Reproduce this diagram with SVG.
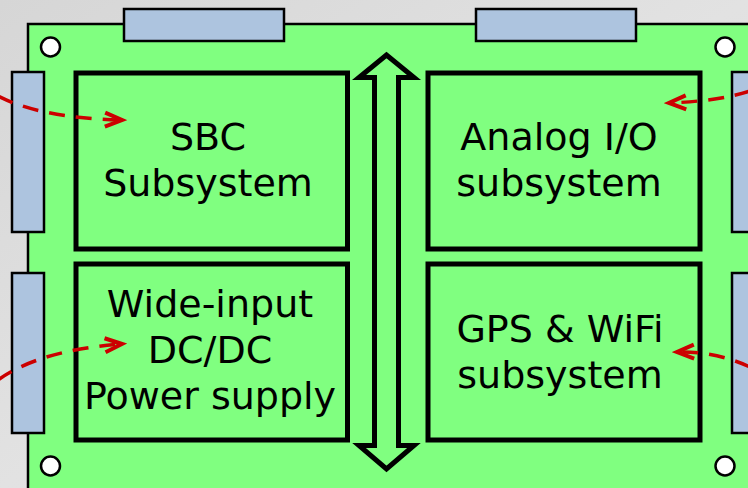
<svg xmlns="http://www.w3.org/2000/svg" width="748" height="488" viewBox="0 0 748 488">
  <defs>
    <linearGradient id="bg" x1="0" y1="0" x2="1" y2="1">
      <stop offset="0" stop-color="#d6d6d6"/>
      <stop offset="0.5" stop-color="#e2e2e2"/>
      <stop offset="1" stop-color="#d9d9d9"/>
    </linearGradient>
    <marker id="ah" markerUnits="userSpaceOnUse" markerWidth="26" markerHeight="22" refX="21" refY="11" orient="auto">
      <path d="M4,4 L21,11 L4,18" fill="none" stroke="#cc0000" stroke-width="4" stroke-linejoin="miter"/>
    </marker>
    <style>
      .conn { fill: #adc4df; stroke: #000; stroke-width: 2.5; }
      .hole { fill: #fff; stroke: #000; stroke-width: 2.5; }
      .box { fill: #80ff80; stroke: #000; stroke-width: 5; }
      .lbl { font-family: "DejaVu Sans", Verdana, sans-serif; font-size: 38px; fill: #000; text-anchor: middle; }
      .link { fill: none; stroke: #cc0000; stroke-width: 3.5; stroke-dasharray: 16 11; marker-end: url(#ah); }
    </style>
  </defs>

  <rect x="0" y="0" width="748" height="488" fill="url(#bg)"/>

  <g id="board">
    <rect x="28" y="24" width="730" height="475" fill="#80ff80" stroke="#000" stroke-width="2.5"/>
    <rect class="conn" x="124" y="9" width="160" height="32"/>
    <rect class="conn" x="476" y="9" width="160" height="32"/>
    <rect class="conn" x="12" y="72" width="32" height="160"/>
    <rect class="conn" x="12" y="273" width="32" height="160"/>
    <rect class="conn" x="732" y="72" width="32" height="160"/>
    <rect class="conn" x="732" y="273" width="32" height="160"/>
    <circle class="hole" cx="50.5" cy="47" r="9.5"/>
    <circle class="hole" cx="725" cy="47" r="9.5"/>
    <circle class="hole" cx="50.5" cy="466" r="9.5"/>
    <circle class="hole" cx="725" cy="466" r="9.5"/>
  </g>

  <g id="sbc">
    <rect class="box" x="76" y="73" width="271.5" height="176"/>
    <text class="lbl" x="208" y="150">SBC</text>
    <text class="lbl" x="208" y="196">Subsystem</text>
  </g>

  <g id="analog">
    <rect class="box" x="428" y="73" width="272" height="176"/>
    <text class="lbl" x="559" y="150">Analog I/O</text>
    <text class="lbl" x="559" y="196">subsystem</text>
  </g>

  <g id="power">
    <rect class="box" x="76" y="264" width="271.5" height="176"/>
    <text class="lbl" x="210" y="317">Wide-input</text>
    <text class="lbl" x="210" y="363">DC/DC</text>
    <text class="lbl" x="210" y="409">Power supply</text>
  </g>

  <g id="gps">
    <rect class="box" x="428" y="264" width="272" height="176"/>
    <text class="lbl" x="560" y="342">GPS &amp; WiFi</text>
    <text class="lbl" x="560" y="388">subsystem</text>
  </g>

  <g id="bus">
    <path d="M386.5,55 L359,77.5 L374.5,77.5 L374.5,445.5 L359,445.5 L386.5,469 L414,445.5 L398.5,445.5 L398.5,77.5 L414,77.5 Z" fill="#80ff80" stroke="#000" stroke-width="5" stroke-linejoin="miter"/>
  </g>

  <g id="connectors">
    <path class="link" d="M-2,96 Q40,118 122,120"/>
    <path class="link" d="M-2,380 Q40,350 122,344"/>
    <path class="link" d="M750,91 Q720,101 669,103"/>
    <path class="link" d="M750,367 Q715,351 677,352"/>
  </g>
</svg>
